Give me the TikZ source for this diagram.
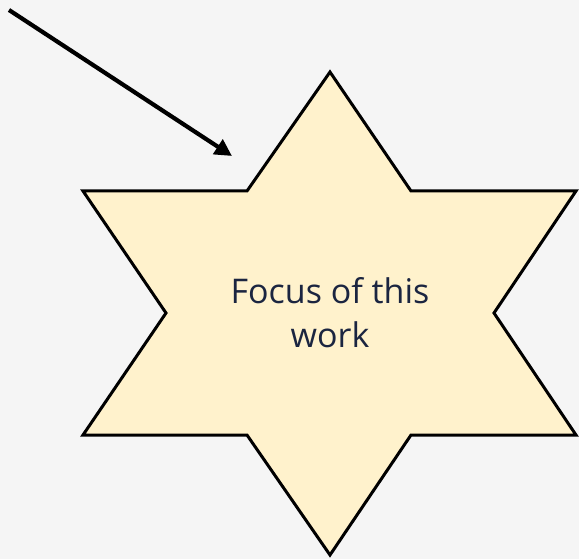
\documentclass[tikz,border=0pt]{standalone}
\usepackage{fontspec}
\setmainfont{Open Sans}
\definecolor{bgc}{HTML}{F5F5F5}
\definecolor{starfill}{HTML}{FFF2CC}
\definecolor{txt}{HTML}{1B2540}
\begin{document}
\begin{tikzpicture}[x=1pt,y=-1pt,
  starstyle/.style={draw=black,line width=3pt,fill=starfill,line join=miter},
  arr/.style={draw=black,line width=4.2pt,-{Triangle[length=17pt,width=17pt]}}]
\usetikzlibrary{arrows.meta}
\fill[bgc] (0,0) rectangle (579,559);
\useasboundingbox (0,0) rectangle (579,559);
\draw[starstyle] (330,72) -- (411,191) -- (576,191) -- (494,313) -- (576,435) -- (411,435) -- (330,555) -- (247,435) -- (83,435) -- (166,313) -- (83,191) -- (247,191) -- cycle;
\node[text=txt,font=\fontsize{34}{44}\selectfont,align=center] (lbl) at (330,313) {Focus of this\\work};
\coordinate (s) at (9,10);
\coordinate (t) at (232,156);
\draw[arr] (s) -- (t);
\end{tikzpicture}
\end{document}
